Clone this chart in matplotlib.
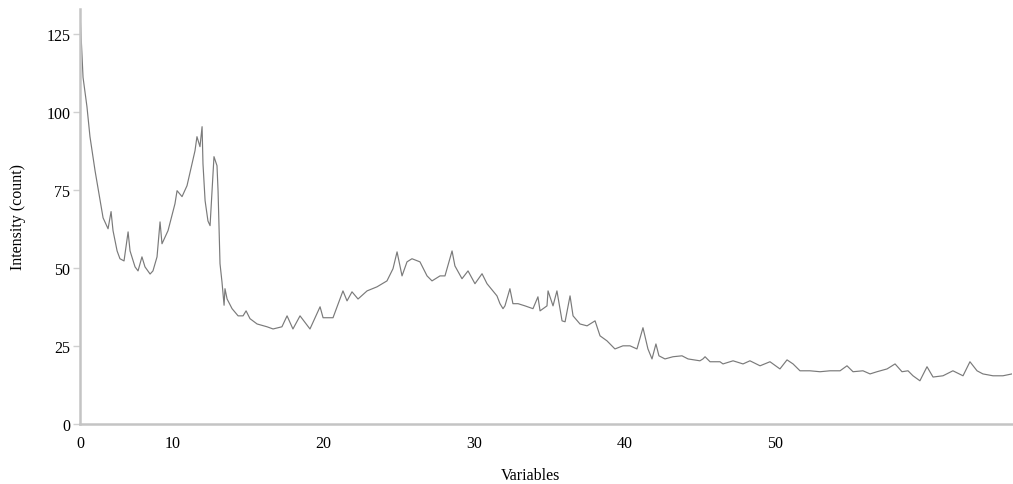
import numpy as np
from matplotlib import pyplot as plt

# diffraction trace (x in axis units, y = count)
x = [3.87, 4.07, 4.33, 4.53, 4.87, 5.13, 5.40, 5.73, 5.93, 6.06, 6.33, 6.52, 6.79,
     7.06, 7.19, 7.52, 7.72, 7.98, 8.18, 8.52, 8.71, 8.98, 9.18, 9.31, 9.71, 10.17,
     10.31, 10.64, 10.97, 11.30, 11.50, 11.63, 11.83, 11.97, 12.03, 12.17, 12.36,
     12.50, 12.63, 12.76, 12.96, 13.03, 13.16, 13.29, 13.43, 13.49, 13.63, 13.96,
     14.36, 14.69, 14.89, 15.15, 15.62, 16.28, 16.68, 17.27, 17.61, 18.00, 18.47,
     19.13, 19.80, 20.00, 20.66, 21.32, 21.59, 21.92, 22.32, 22.92, 23.58, 24.24,
     24.64, 24.91, 25.24, 25.57, 25.90, 26.43, 26.90, 27.23, 27.76, 28.09, 28.56,
     28.75, 29.22, 29.62, 30.08, 30.55, 30.88, 31.54, 31.74, 31.94, 32.07, 32.40,
     32.60, 32.94, 33.40, 33.93, 34.26, 34.40, 34.86, 34.93, 35.26, 35.52, 35.86,
     36.06, 36.39, 36.59, 37.05, 37.52, 38.05, 38.38, 38.84, 39.37, 39.90, 40.37,
     40.83, 41.23, 41.56, 41.83, 42.09, 42.29, 42.69, 43.22, 43.82, 44.22, 45.01,
     45.21, 45.35, 45.68, 45.88, 46.34, 46.54, 47.21, 47.87, 48.33, 49.00, 49.66,
     50.32, 50.79, 51.19, 51.65, 52.31, 52.98, 53.64, 54.31, 54.77, 55.17, 55.83,
     56.30, 56.76, 57.43, 57.96, 58.42, 58.82, 59.15, 59.61, 60.08, 60.48, 61.14,
     61.80, 62.47, 62.93, 63.40, 63.79, 64.46, 65.12, 65.72]
intensity = [131.4, 111, 101.6, 92, 81, 73.7, 66, 62.5, 68, 61.9, 55.4, 52.9, 52.2,
             61.5, 55.4, 50.3, 49, 53.5, 50.3, 48, 49, 53.5, 64.7, 57.7, 61.9, 70.5,
             74.7, 72.8, 76.3, 83.3, 87.5, 92, 88.8, 95.2, 83.3, 71.5, 65,
             63.5, 74.7, 85.6, 82.7, 74.7, 51.3, 45.5, 38, 43.3, 40, 36.9,
             34.6, 34.6, 36.2, 33.7, 32, 31.1, 30.4, 31.1, 34.6, 30.4, 34.6,
             30.4, 37.5, 34, 34, 42.6, 39.4, 42.3, 40, 42.6, 43.9, 45.8,
             49.7, 55.1, 47.4, 51.9, 52.9, 51.9, 47.4, 45.8, 47.4, 47.4, 55.4,
             50.6, 46.5, 49, 44.9, 48.1, 44.9, 41, 38.5, 36.9, 37.8, 43.3,
             38.5, 38.5, 37.8, 36.9, 40.7, 36.2, 37.8, 42.6, 37.8, 42.6, 33,
             32.7, 41, 34.6, 32, 31.4, 33, 28.2, 26.6, 24, 25, 25,
             24, 30.8, 24, 20.8, 25.6, 21.8, 20.8, 21.5, 21.8, 20.8, 20.2,
             20.8, 21.5, 19.9, 19.9, 19.9, 19.2, 20.2, 19.2, 20.2, 18.6, 19.9,
             17.6, 20.5, 19.2, 17, 17, 16.7, 17, 17, 18.6, 16.7, 17,
             16, 16.7, 17.6, 19.2, 16.7, 17, 15.4, 13.8, 18.3, 15, 15.4,
             17, 15.4, 19.9, 17, 16, 15.4, 15.4, 16]

xticks = [3.87, 10, 20, 30, 40, 50]
xticklabels = ['0', '10', '20', '30', '40', '50']
yticks = [0, 25, 50, 75, 100, 125]

plt.rcParams['font.family'] = ['Liberation Serif', 'DejaVu Serif']

fig = plt.figure(figsize=(10.13, 4.85), dpi=100)
ax = fig.add_axes([0.079, 0.124, 0.920, 0.856])

ax.plot(x, intensity, color='#7a7a7a', lw=0.85)

ax.set_xlim(3.87, 65.72)
ax.set_ylim(0, 133)
ax.set_xticks(xticks)
ax.set_xticklabels(xticklabels)
ax.set_yticks(yticks)

for side in ['top', 'right']:
    ax.spines[side].set_visible(False)
for side in ['left', 'bottom']:
    ax.spines[side].set_color('#c4c4c4')
    ax.spines[side].set_linewidth(1.8)

ax.tick_params(axis='x', length=0, pad=8, labelsize=11.5)
ax.tick_params(axis='y', length=5, width=1, color='#d0d0d0', pad=2, labelsize=11.5)

ax.set_xlabel('Variables', fontsize=11.5)
ax.set_ylabel('Intensity (count)', fontsize=11.5)
ax.xaxis.set_label_coords(0.483, -0.105)
ax.yaxis.set_label_coords(-0.058, 0.5)

fig.savefig('out.png', dpi=100)
